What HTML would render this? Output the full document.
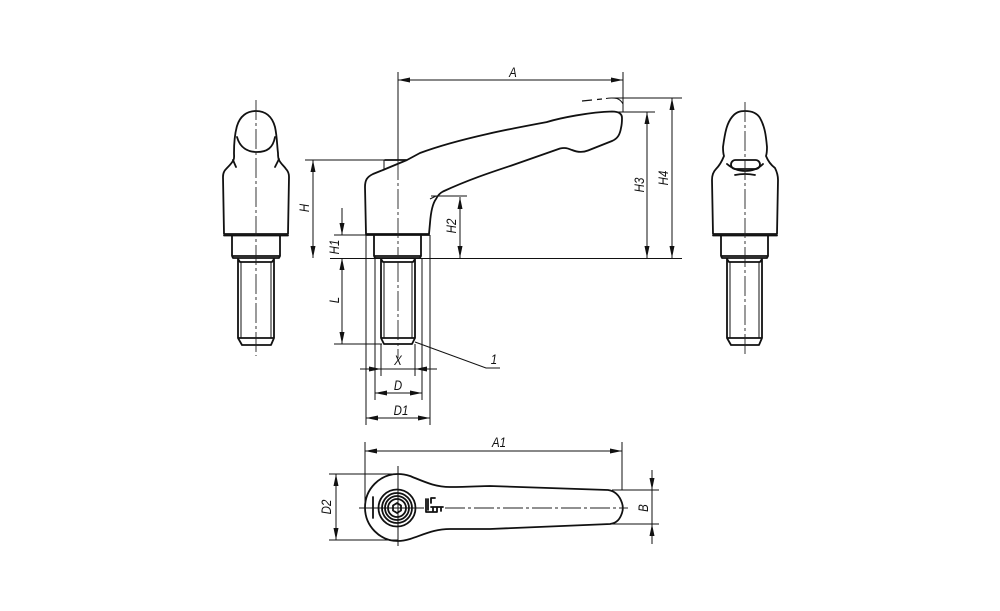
<!DOCTYPE html>
<html><head><meta charset="utf-8"><style>
html,body{margin:0;padding:0;background:#fff}
svg{display:block}
text{font-family:"Liberation Sans",sans-serif;font-style:italic;font-size:13.500px;fill:#111;text-anchor:middle}
.k{fill:none;stroke:#111;stroke-width:1.800;stroke-linejoin:round;stroke-linecap:round}
.t{fill:none;stroke:#111;stroke-width:1}
.c{fill:none;stroke:#222;stroke-width:.9;stroke-dasharray:20 3 3 3}
.a{fill:none;stroke:#111;stroke-width:1;marker-start:url(#m);marker-end:url(#m)}
.e{fill:none;stroke:#111;stroke-width:1;marker-end:url(#m)}
</style></head><body>
<svg width="1000" height="611" viewBox="0 0 1000 611" xmlns="http://www.w3.org/2000/svg">
<defs><marker id="m" markerUnits="userSpaceOnUse" markerWidth="13" markerHeight="7" refX="12" refY="3.500" orient="auto-start-reverse"><path d="M0 1L12 3.500L0 6Z" fill="#111"/></marker></defs>

<!-- left view -->
<path class="k" d="M224 234L223 177C223 172 225 170 227 168C230 165 232 163 233.500 160C234.500 158 234 156 234 153C234 142 235 133 237 126C240 116 247 111 256 111C265 111 272 116 275 127C277 136 277 145 278 153C278 156 278 158 279 160C281 164 284 166 286 169C288 171 289 173 289 177L288 234Z"/>
<path class="k" d="M233 160L236 167M279 159L275 167M237 137C240 148 248 152 257 152C267 152 273 148 275 137"/>
<path class="k" d="M224 235.500H288"/>
<path class="k" d="M232 236V256L233 258H279L280 256V236M232 256H280"/>
<path class="k" d="M238 259V338L242 345H271L274 338V259L272 262H240ZM238 338H274"/>
<path class="t" d="M241 262V338M271 262V338"/>
<path class="c" d="M256 100V356"/>

<!-- right view -->
<path class="k" d="M713 234L712 180C712 175 713 172 716 169C720 165 722 161 724 156C723 153 723 150 723 147C725 132 727 123 732 117C736 112 740 111 745 111C752 111 757 113 760 118C765 127 766 136 767 147C767 150 767 153 766 156C768 161 771 165 775 168C777 172 778 175 778 180L777 234Z"/>
<rect class="k" x="731" y="160" width="29" height="9" rx="4.500"/>
<path class="k" stroke-width="1.200" d="M727 164Q735 171 745 171Q756 171 763 164M735 175Q745 173 755 175"/>
<path class="k" d="M713 235.500H777"/>
<path class="k" d="M721 236V256L722 258H767L768 256V236M721 256H768"/>
<path class="k" d="M727 259V338L731 345H759L762 338V259L760 262H729ZM727 338H762"/>
<path class="t" d="M730 262V338M759 262V338"/>
<path class="c" d="M745 102V356"/>

<!-- main view handle -->
<path class="k" d="M429 234L430 223C431 210 433 203 436 199C438 195 440 193 443 191.500C470 179 495 171 513 165L560 148.500C566 147 569 149 572 150C578 152.500 583 152.500 588 150.500L612 141C618 138.500 620 134 621 128C622 124 622 121 622 118C622 113 618 111.500 612 111.500C590 112 560 118 547 122L547 122C520 127 460 138 420 153L407 160L383 170L373 174C367 177 365 180 365 187L366 234Z"/>
<path class="k" d="M366 235H429M385 160H406"/>
<path class="t" d="M384 160V169M398 72V160"/>
<path class="c" d="M398 160V255"/>
<path class="k" d="M374 236V256L375 258H420L421 256V236M374 256H421"/>
<path class="k" d="M381 259V338L384 344H412L415 338V259L413 262H383ZM381 338H415"/>
<path class="t" d="M384 262V338M412 262V338"/>
<path class="c" d="M398 262V358"/>
<path class="t" d="M431 196L443 196H467M430 199L436 196"/>
<path d="M582 101L592 100M597 99.500L602 99" fill="none" stroke="#111" stroke-width="1.200"/>
<path d="M606 98.500Q612 97.500 617 98.500Q621 100 623 104" fill="none" stroke="#111" stroke-width="1"/>

<!-- main dims -->
<path class="t" d="M330 258.500H682"/>
<path class="a" d="M398 80H623"/><path class="t" d="M623 72V112"/>
<path class="t" d="M305 160H385M334 235H366M334 344H382M612 98H682M617 112H655"/>
<path class="a" d="M313 160V258"/>
<path class="t" d="M342 208V235"/>
<path class="e" d="M342 208V235"/>
<path class="a" d="M342 258V344"/>
<path class="a" d="M460 197V258"/>
<path class="a" d="M647 112V258"/>
<path class="a" d="M672 98V258"/>
<path class="t" d="M366 235V425M430 235V425M375 258V400M422 258V400M381 344V376M415 344V376"/>
<path class="t" d="M360 369H437"/>
<path class="e" d="M360 369H381"/><path class="e" d="M437 369H415"/>
<path class="a" d="M375 393H422"/>
<path class="a" d="M366 418H430"/>
<path class="t" d="M415 342L486 368H500"/>

<!-- top view -->
<path class="k" d="M398 474C403 474 407 475 410 476C425 482 435 487 450 487C470 487 480 486 490 486L608 490C616 491 620 497 622 503C623 506 623 510 622 513C620 519 617 523 610 524L490 529C480 529 465 529 450 529C435 529 425 534 410 539C405 540.500 402 541 398 541A33 33.500 0 0 1 398 474Z"/>
<path class="k" d="M373 497V518"/>
<circle cx="397" cy="508" r="18.500" class="k"/>
<circle cx="397" cy="508" r="15" class="k" stroke-width="1.200"/>
<circle cx="397" cy="508" r="12" class="k"/>
<circle cx="397" cy="508" r="9" class="k" stroke-width="1.500"/>
<path class="k" stroke-width="1.500" d="M397 503L401 505.500V510.500L397 513L393 510.500V505.500Z"/>
<path class="t" d="M398 466V546M359 508H424"/>
<path class="c" d="M445 508H628"/>
<path class="k" stroke-width="1.400" d="M426 499V512H436M428 499V510M431 503V498H435M431 507H443M433 507V512M437 507V512M441 507V511"/>
<path class="t" d="M365 442V508M622 442V490M329 474H398M329 540H398M612 490H659M612 524H659"/>
<path class="a" d="M365 451H622"/>
<path class="a" d="M336 474V540"/>
<path class="e" d="M652 470V490"/><path class="e" d="M652 544V524"/>
<path class="t" d="M652 490V524"/>

<!-- labels -->
<text transform="translate(513 77) scale(.85 1)">A</text>
<text transform="translate(309 208) rotate(-90) scale(.85 1)">H</text>
<text transform="translate(339 247) rotate(-90) scale(.85 1)">H1</text>
<text transform="translate(339 300) rotate(-90) scale(.85 1)">L</text>
<text transform="translate(456 226) rotate(-90) scale(.85 1)">H2</text>
<text transform="translate(644 185) rotate(-90) scale(.85 1)">H3</text>
<text transform="translate(668 178) rotate(-90) scale(.85 1)">H4</text>
<text transform="translate(398 365) scale(.85 1)">X</text>
<text transform="translate(398 390) scale(.85 1)">D</text>
<text transform="translate(401 415) scale(.85 1)">D1</text>
<text transform="translate(494 364) scale(.85 1)">1</text>
<text transform="translate(499 447) scale(.85 1)">A1</text>
<text transform="translate(331 507) rotate(-90) scale(.85 1)">D2</text>
<text transform="translate(648 508) rotate(-90) scale(.85 1)">B</text>
</svg>
</body></html>
